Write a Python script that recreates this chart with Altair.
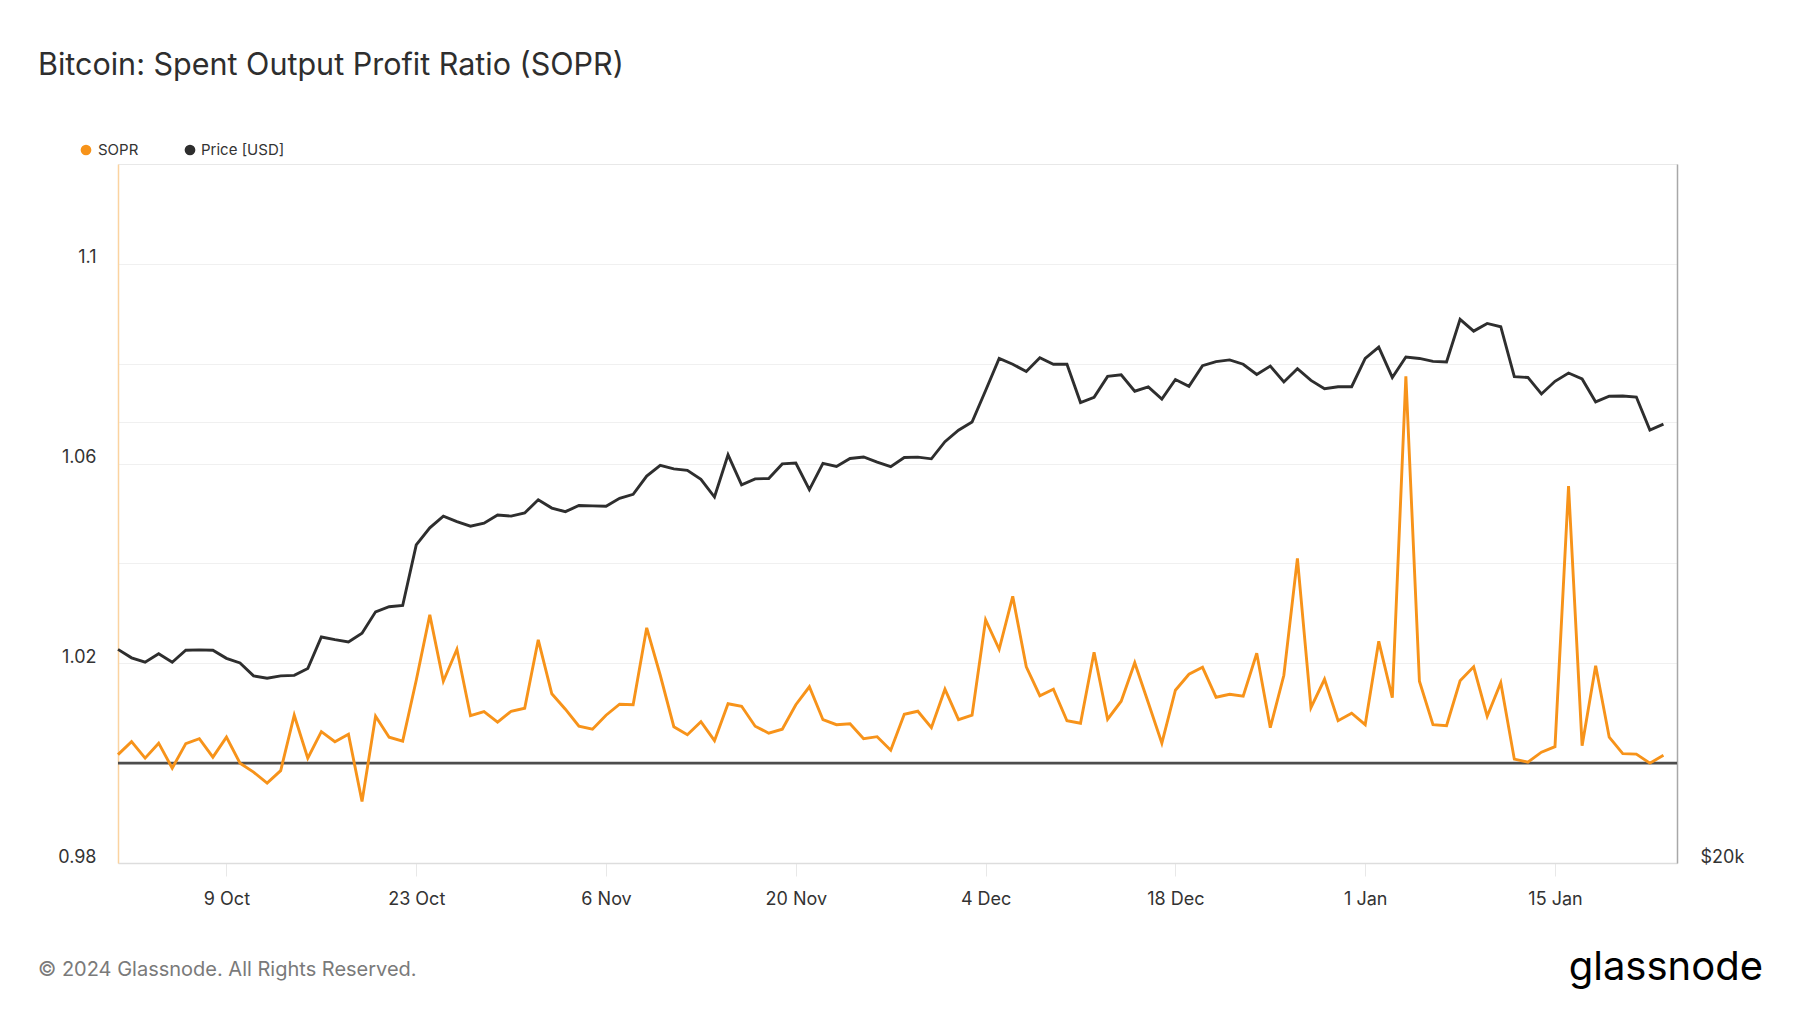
import altair as alt
import pandas as pd

# ---------------- data ----------------
start_date = "2023-10-01"
end_date = "2024-01-23"

sopr = [
    1.0017, 1.0043, 1.0010, 1.0040, 0.9990, 1.0039, 1.0049, 1.0012, 1.0052, 1.0000,
    0.9982, 0.9960, 0.9985, 1.0096, 1.0010, 1.0063, 1.0043, 1.0058, 0.9923, 1.0094,
    1.0052, 1.0044, 1.0166, 1.0297, 1.0164, 1.0228, 1.0095, 1.0103, 1.0082, 1.0104,
    1.0110, 1.0247, 1.0139, 1.0108, 1.0074, 1.0068, 1.0096, 1.0118, 1.0117, 1.0271,
    1.0176, 1.0073, 1.0057, 1.0083, 1.0045, 1.0119, 1.0114, 1.0074, 1.0060, 1.0068,
    1.0117, 1.0153, 1.0087, 1.0077, 1.0079, 1.0049, 1.0053, 1.0026, 1.0098, 1.0104,
    1.0071, 1.0148, 1.0087, 1.0096, 1.0287, 1.0228, 1.0334, 1.0193, 1.0135, 1.0148,
    1.0085, 1.0080, 1.0222, 1.0088, 1.0124, 1.0201, 1.0121, 1.0040, 1.0146, 1.0178,
    1.0192, 1.0132, 1.0138, 1.0134, 1.0220, 1.0071, 1.0176, 1.0410, 1.0111, 1.0168,
    1.0085, 1.0100, 1.0077, 1.0244, 1.0131, 1.0775, 1.0164, 1.0077, 1.0075, 1.0165,
    1.0193, 1.0094, 1.0161, 1.0008, 1.0002, 1.0022, 1.0033, 1.0555, 1.0035, 1.0195,
    1.0052, 1.0019, 1.0018, 1.0000, 1.0016,
]

price = [
    27980, 27610, 27420, 27790, 27420, 27940, 27960, 27940, 27590, 27390,
    26840, 26740, 26840, 26860, 27150, 28530, 28410, 28310, 28700, 29680,
    29920, 29980, 32970, 33870, 34500, 34200, 33960, 34120, 34560, 34500,
    34670, 35400, 34940, 34740, 35080, 35060, 35040, 35480, 35700, 36740,
    37360, 37160, 37070, 36550, 35550, 37990, 36240, 36580, 36600, 37450,
    37500, 35970, 37480, 37300, 37770, 37860, 37550, 37290, 37830, 37850,
    37750, 38780, 39490, 40000, 42030, 44200, 43800, 43300, 44250, 43800,
    43800, 41240, 41580, 42970, 43080, 41980, 42270, 41470, 42760, 42300,
    43700, 43980, 44100, 43800, 43100, 43670, 42600, 43500, 42700, 42150,
    42280, 42280, 44200, 45000, 42900, 44300, 44200, 44000, 43950, 47000,
    46140, 46700, 46460, 42950, 42900, 41800, 42640, 43200, 42800, 41280,
    41650, 41670, 41600, 39500, 39870,
]

x_tick_dates = ["2023-10-09", "2023-10-23", "2023-11-06", "2023-11-20",
                "2023-12-04", "2023-12-18", "2024-01-01", "2024-01-15"]
sopr_ticks = [0.98, 1.0, 1.02, 1.04, 1.06, 1.08, 1.1]
sopr_labels = ["0.98", "1.02", "1.06", "1.1"]
price_ticks = [20000, 40000]
series_names = ["SOPR", "Price [USD]"]
series_colors = ["#f7931a", "#2e2e2e"]

title_text = "Bitcoin: Spent Output Profit Ratio (SOPR)"
footer_text = "© 2024 Glassnode. All Rights Reserved."
logo_text = "glassnode"

# ---------------- frames ----------------
dates = pd.date_range(start_date, end_date, freq="D")
df = pd.DataFrame({"date": dates.strftime("%Y-%m-%d"), "SOPR": sopr, "Price": price})
df_one = pd.DataFrame({"SOPR": [1.0]})

FONT = "Inter"

def dt(s):
    y, m, d = (int(v) for v in s.split("-"))
    return alt.DateTime(year=y, month=m, date=d, utc=True)

x_enc = alt.X(
    "date:T",
    scale=alt.Scale(type="utc", domain=[dt("2023-10-01"), dt("2024-01-24")], nice=False),
    axis=alt.Axis(
        values=[dt(s) for s in x_tick_dates],
        format="%-d %b",
        title=None,
        grid=False,
        ticks=True,
        tickSize=13,
        tickColor="#e8e8e8",
        tickWidth=1,
        domainColor="#dddddd",
        domainWidth=1.5,
        labelFont=FONT,
        labelFontSize=18,
        labelColor="#333333",
        labelBaseline="middle",
        labelPadding=23,
        labelFlush=False,
        labelOverlap=False,
    ),
)

label_list = "[" + ",".join("'" + s + "'" for s in sopr_labels) + "]"
sopr_scale = alt.Scale(domain=[0.98, 1.12], nice=False, zero=False)
sopr_axis = alt.Axis(
    orient="left",
    values=sopr_ticks,
    title=None,
    grid=True,
    gridColor="#f0f0f0",
    gridWidth=1,
    ticks=False,
    domainColor="#fbd3a0",
    domainWidth=1.5,
    labelFont=FONT,
    labelFontSize=18,
    labelColor="#333333",
    labelPadding=22,
    labelBaseline="alphabetic",
    labelOffset=-1,
    labelFlush=False,
    labelOverlap=False,
    labelExpr="indexof(" + label_list + ", format(datum.value, '.2~f')) >= 0 ? format(datum.value, '.2~f') : ''",
)
y_sopr = alt.Y("SOPR:Q", scale=sopr_scale, axis=sopr_axis)

price_axis = alt.Axis(
    orient="right",
    values=price_ticks,
    title=None,
    grid=True,
    gridColor="#f0f0f0",
    gridWidth=1,
    ticks=False,
    domainColor="#a8a8a8",
    domainWidth=1.5,
    labelFont=FONT,
    labelFontSize=18,
    labelColor="#333333",
    labelPadding=23,
    labelBaseline="alphabetic",
    labelOffset=-1,
    labelFlush=False,
    labelOverlap=False,
    labelExpr="datum.value == 20000 ? '$20k' : ''",
)
y_price = alt.Y("Price:Q", scale=alt.Scale(type="log", domain=[20000, 60000], nice=False), axis=price_axis)

base = alt.Chart(df)

rule = alt.Chart(df_one).mark_rule(color="#4d4d4d", strokeWidth=2.6).encode(y=y_sopr)
sopr_line = base.mark_line(color=series_colors[0], strokeWidth=2.9).encode(x=x_enc, y=y_sopr)
price_line = base.mark_line(color=series_colors[1], strokeWidth=2.9).encode(x=x_enc, y=y_price)

sopr_layer = alt.layer(rule, sopr_line)

# ---------------- annotations ----------------
def text_layer(txt, x, y, size, color, align="left", weight="normal", baseline="alphabetic"):
    return alt.Chart(pd.DataFrame({"t": [txt]})).mark_text(
        font=FONT, fontSize=size, color=color, align=align, baseline=baseline, fontWeight=weight
    ).encode(text="t:N", x=alt.value(x), y=alt.value(y))

def dot_layer(name, color, x, y):
    return alt.Chart(pd.DataFrame({"n": [name]})).mark_circle(
        color=color, size=115, opacity=1
    ).encode(x=alt.value(x), y=alt.value(y), detail="n:N")

title = text_layer(title_text, -80, -89, 30.5, "#2e2e2e")
leg1_dot = dot_layer(series_names[0], series_colors[0], -32, -14)
leg1_txt = text_layer(series_names[0], -20, -9, 15, "#333333")
leg2_dot = dot_layer(series_names[1], series_colors[1], 72, -14)
leg2_txt = text_layer(series_names[1], 83, -9, 15, "#333333")
footer = text_layer(footer_text, -80, 812, 20, "#7a7a7a")
logo = text_layer(logo_text, 1645, 816, 40, "#000000", align="right", weight="normal")

chart = alt.layer(
    sopr_layer, price_line,
    title, leg1_dot, leg1_txt, leg2_dot, leg2_txt, footer, logo,
).resolve_scale(y="independent").properties(
    width=1559,
    height=699,
    padding={"left": 118, "top": 164, "right": 123, "bottom": 150},
    autosize=alt.AutoSizeParams(type="none"),
    background="white",
).configure_view(stroke="#e8e8e8", strokeWidth=1)

chart.save("out.html", embed_options={"renderer": "svg", "actions": False})
